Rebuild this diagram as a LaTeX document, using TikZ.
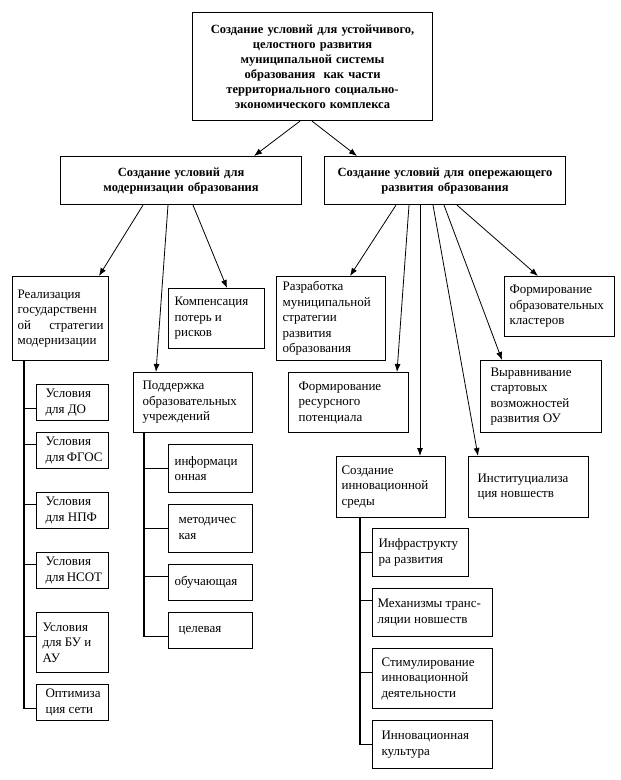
\documentclass[tikz,border=0pt]{standalone}
\usepackage{fontspec}
\setmainfont{Liberation Serif}
\usepackage{tikz}
\usetikzlibrary{arrows.meta}

\begin{document}
\begin{tikzpicture}[x=1pt, y=-1pt,
    cell/.style={draw, line width=1.1pt, anchor=north west, align=flush left, inner xsep=6pt, inner ysep=0pt,
        font=\fontsize{13}{15.5}\selectfont},
    head/.style={cell, align=center, font=\fontsize{12.5}{15}\selectfont\bfseries},
    arr/.style={line width=0.8pt, -{Latex[length=8pt, width=6pt]}},
    tree/.style={line width=1.1pt}]
    \useasboundingbox (0,0) rectangle (621,780);
    % top level
    \node[head, minimum width=240pt, minimum height=108pt, text width=228pt] (top) at (192,12)
        {Создание условий для устойчивого,\\ целостного развития\\ муниципальной системы\\ образования \ как части\\ территориального социально-\\ экономического комплекса};
    \node[head, minimum width=241pt, minimum height=48pt, text width=229pt] (modern) at (60,156)
        {Создание условий для\\ модернизации образования};
    \node[head, minimum width=241pt, minimum height=48pt, text width=229pt] (advance) at (324,156)
        {Создание условий для опережающего\\ развития образования};
    \draw[arr] ([xshift=108pt]top.south west) -- ([xshift=194pt]modern.north west);
    \draw[arr] ([xshift=120pt]top.south west) -- ([xshift=33pt]advance.north west);

    % left branch
    \node[cell, inner xsep=5pt, minimum width=96pt, minimum height=84pt, text width=86pt] (strategy) at (12,276)
        {Реализация\\ государственн\\ ой\hfill стратегии\\ модернизации};
    \node[cell, minimum width=96pt, minimum height=60pt, text width=84pt] (losses) at (168,288)
        {Компенсация\\ потерь и\\ рисков};
    \node[cell, inner xsep=9pt, minimum width=119pt, minimum height=60pt, text width=101pt] (support) at (133,372)
        {Поддержка\\ образовательных\\ учреждений};
    \draw[arr] ([xshift=83pt]modern.south west) -- ([xshift=87pt]strategy.north west);
    \draw[arr] ([xshift=108pt]modern.south west) -- ([xshift=23pt]support.north west);
    \draw[arr] ([xshift=133pt]modern.south west) -- ([xshift=59pt]losses.north west);

    \node[cell, inner xsep=9pt, minimum width=72pt, minimum height=36pt, text width=54pt] (cdo) at (36,384) {Условия\\ для~ДО};
    \node[cell, inner xsep=9pt, minimum width=72pt, minimum height=36pt, text width=54pt] (cfgos) at (36,432) {Условия\\ для~ФГОС};
    \node[cell, inner xsep=9pt, minimum width=72pt, minimum height=36pt, text width=54pt] (cnpf) at (36,492) {Условия\\ для~НПФ};
    \node[cell, inner xsep=9pt, minimum width=72pt, minimum height=36pt, text width=54pt] (cnsot) at (36,552) {Условия\\ для~НСОТ};
    \node[cell, minimum width=72pt, minimum height=60pt, text width=60pt] (cbu) at (36,612) {Условия\\ для БУ и\\ АУ};
    \node[cell, inner xsep=9pt, minimum width=72pt, minimum height=36pt, text width=54pt] (cnet) at (36,684) {Оптимиза\\ ция~сети};
    \draw[tree] ([xshift=12pt]strategy.south west) |- ([yshift=-6pt]cnet.west);
    \draw[tree] ([xshift=12pt]strategy.south west) |- ([yshift=-6pt]cdo.west);
    \draw[tree] ([xshift=12pt]strategy.south west) |- ([yshift=6pt]cfgos.west);
    \draw[tree] ([xshift=12pt]strategy.south west) |- ([yshift=6pt]cnpf.west);
    \draw[tree] ([xshift=12pt]strategy.south west) |- ([yshift=6pt]cnsot.west);
    \draw[tree] ([xshift=12pt]strategy.south west) |- ([yshift=6pt]cbu.west);

    \node[cell, minimum width=84pt, minimum height=48pt, text width=72pt] (info) at (168,444) {информаци\\ онная};
    \node[cell, inner xsep=10pt, minimum width=84pt, minimum height=48pt, text width=64pt] (method) at (168,504) {методичес\\ кая};
    \node[cell, minimum width=84pt, minimum height=36pt, text width=72pt] (teach) at (168,564) {обучающая};
    \node[cell, inner xsep=10pt, minimum width=84pt, minimum height=36pt, text width=64pt] (target) at (168,612) {целевая};
    \draw[tree] ([xshift=11pt]support.south west) |- ([yshift=-6pt]target.west);
    \draw[tree] ([xshift=11pt]support.south west) |- (info.west);
    \draw[tree] ([xshift=11pt]support.south west) |- (method.west);
    \draw[tree] ([xshift=11pt]support.south west) |- ([yshift=6pt]teach.west);

    % right branch
    \node[cell, minimum width=109pt, minimum height=84pt, text width=97pt] (plan) at (276,276)
        {Разработка\\ муниципальной\\ стратегии\\ развития\\ образования};
    \node[cell, inner xsep=5pt, minimum width=110pt, minimum height=60pt, text width=100pt] (clusters) at (504,276)
        {Формирование\\ образовательных\\ кластеров};
    \node[cell, inner xsep=10pt, minimum width=121pt, minimum height=72pt, text width=101pt] (equal) at (480,360)
        {Выравнивание\\ стартовых\\ возможностей\\ развития ОУ};
    \node[cell, inner xsep=10pt, minimum width=120pt, minimum height=60pt, text width=100pt] (resource) at (288,372)
        {Формирование\\ ресурсного\\ потенциала};
    \node[cell, inner xsep=5pt, minimum width=109pt, minimum height=61pt, text width=99pt] (environ) at (336,456)
        {Создание\\ инновационной\\ среды};
    \node[cell, inner xsep=9pt, minimum width=120pt, minimum height=61pt, text width=102pt] (institut) at (468,456)
        {Институциализа\\ ция новшеств\\[8pt]};
    \draw[arr] ([xshift=72pt]advance.south west) -- ([xshift=74pt]plan.north west);
    \draw[arr] ([xshift=85pt]advance.south west) -- ([xshift=109pt]resource.north west);
    \draw[arr] ([xshift=96pt]advance.south west) -- ([xshift=84pt]environ.north west);
    \draw[arr] ([xshift=109pt]advance.south west) -- ([xshift=10pt]institut.north west);
    \draw[arr] ([xshift=120pt]advance.south west) -- ([xshift=22pt]equal.north west);
    \draw[arr] ([xshift=133pt]advance.south west) -- ([xshift=34pt]clusters.north west);

    \node[cell, minimum width=96pt, minimum height=48pt, text width=84pt] (infra) at (372,528) {Инфраструкту\\ ра развития};
    \node[cell, inner xsep=5pt, minimum width=120pt, minimum height=48pt, text width=110pt] (transfer) at (372,588) {Механизмы транс-\\ляции новшеств};
    \node[cell, inner xsep=9pt, minimum width=120pt, minimum height=60pt, text width=102pt] (stimul) at (372,648) {Стимулирование\\ инновационной\\ деятельности};
    \node[cell, inner xsep=9pt, minimum width=120pt, minimum height=48pt, text width=102pt] (culture) at (372,720) {Инновационная\\ культура};
    \draw[tree] ([xshift=24pt]environ.south west) |- (culture.west);
    \draw[tree] ([xshift=24pt]environ.south west) |- (infra.west);
    \draw[tree] ([xshift=24pt]environ.south west) |- ([yshift=12pt]transfer.west);
    \draw[tree] ([xshift=24pt]environ.south west) |- ([yshift=6pt]stimul.west);
\end{tikzpicture}
\end{document}
